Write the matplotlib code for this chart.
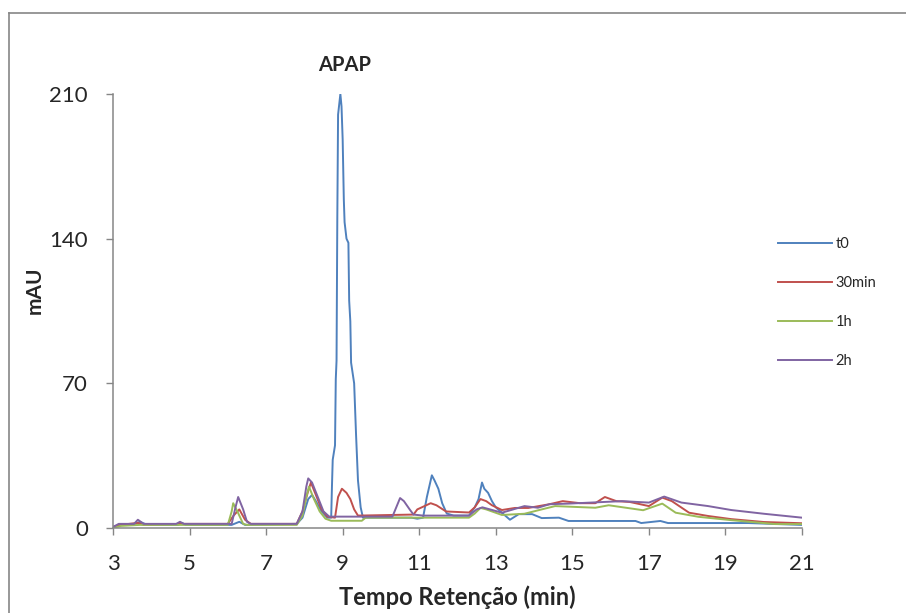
import matplotlib
matplotlib.use("Agg")
import matplotlib.pyplot as plt
from matplotlib.lines import Line2D

# chromatogram traces (time in min, signal in mAU)
t_t0 = [3.0, 3.2, 3.6, 3.7, 3.9, 4.7, 4.8, 4.9, 6.1, 6.3, 6.45, 7.8, 7.95, 8.1, 8.2,
        8.3, 8.45, 8.6, 8.7, 8.72, 8.74, 8.8, 8.82, 8.84, 8.86, 8.88, 8.94, 8.97,
        9.0, 9.03, 9.05, 9.1, 9.15, 9.17, 9.2, 9.22, 9.3, 9.35, 9.4, 9.47, 9.53,
        9.6, 10.8, 10.95, 11.1, 11.2, 11.33, 11.4, 11.5, 11.6, 11.72, 11.9, 12.3,
        12.45, 12.55, 12.64, 12.7, 12.8, 12.9, 13.0, 13.16, 13.37, 13.6, 13.95,
        14.2, 14.65, 14.9, 16.65, 16.8, 17.3, 17.5, 19.6, 21.0]
v_t0 = [0.5, 1.5, 2.0, 3.0, 1.5, 1.5, 2.5, 1.5, 1.5, 3.0, 1.5, 2.0, 5.0, 14.0, 16.0,
        13.0, 8.0, 5.0, 5.0, 20.0, 33.0, 40.0, 72.0, 81.0, 150.0, 200.0, 210.0,
        204.0, 188.0, 159.0, 148.0, 140.0, 138.0, 110.0, 100.0, 80.0, 70.0, 45.0,
        23.0, 10.0, 5.0, 5.0, 5.0, 4.5, 5.0, 15.0, 25.5, 23.0, 19.0, 12.0, 7.0,
        6.0, 6.0, 10.0, 14.0, 22.0, 19.0, 17.0, 13.0, 10.0, 7.4, 4.0, 6.7, 6.7,
        4.8, 5.0, 3.4, 3.4, 2.4, 3.4, 2.4, 2.4, 1.5]

t_30 = [3.0, 3.2, 3.65, 3.8, 4.75, 6.0, 6.15, 6.3, 6.45, 6.6, 7.8, 7.95, 8.1, 8.17,
        8.3, 8.45, 8.6, 8.8, 8.88, 8.98, 9.1, 9.2, 9.3, 9.4, 10.85, 10.95, 11.3,
        11.45, 11.7, 12.3, 12.45, 12.6, 12.75, 12.9, 13.16, 13.5, 13.85, 14.4,
        14.75, 15.2, 15.6, 15.85, 16.15, 16.5, 17.0, 17.35, 17.6, 18.05, 18.55,
        19.15, 20.0, 21.0]
v_30 = [0.5, 1.5, 2.5, 1.5, 2.0, 2.0, 6.0, 9.0, 4.0, 2.0, 2.0, 8.0, 18.0, 22.0,
        16.0, 9.0, 5.5, 5.0, 15.0, 19.0, 17.0, 14.0, 9.0, 6.0, 6.5, 9.0, 12.0,
        11.0, 8.0, 7.5, 10.0, 14.0, 13.0, 11.0, 8.7, 9.7, 9.7, 11.5, 13.0, 12.0,
        12.0, 15.0, 13.0, 12.6, 10.6, 14.7, 13.0, 7.4, 5.8, 4.3, 2.9, 2.3]

t_1h = [3.0, 3.2, 3.7, 4.7, 6.0, 6.1, 6.14, 6.25, 6.4, 6.5, 7.8, 7.95, 8.05, 8.12,
        8.25, 8.4, 8.55, 8.7, 9.5, 9.6, 12.3, 12.45, 12.6, 12.75, 13.16, 13.75,
        14.2, 14.55, 15.6, 15.95, 16.85, 17.35, 17.7, 18.3, 19.15, 20.3, 21.0]
v_1h = [0.0, 1.0, 1.5, 1.5, 1.5, 8.0, 12.0, 8.0, 2.0, 1.5, 1.5, 6.0, 15.0, 20.0,
        14.0, 8.0, 4.5, 3.5, 3.5, 5.0, 5.0, 7.0, 9.7, 9.0, 6.3, 6.9, 9.0, 10.6,
        9.8, 11.0, 8.6, 11.8, 7.4, 5.4, 3.8, 1.9, 1.9]

t_2h = [3.0, 3.15, 3.55, 3.65, 3.8, 4.65, 4.75, 4.85, 6.1, 6.2, 6.27, 6.4, 6.5, 6.6,
        7.8, 7.95, 8.05, 8.1, 8.2, 8.35, 8.5, 8.65, 10.3, 10.4, 10.5, 10.6, 10.75,
        10.85, 11.1, 12.3, 12.5, 12.65, 12.85, 13.16, 13.75, 14.1, 14.4, 14.9,
        16.3, 17.0, 17.4, 17.85, 18.55, 19.15, 20.0, 21.0]
v_2h = [0.5, 2.0, 2.0, 4.0, 2.0, 2.0, 3.0, 2.0, 2.0, 10.0, 15.0, 9.0, 3.0, 2.0,
        2.0, 8.0, 20.0, 24.0, 22.0, 15.0, 8.0, 5.5, 5.5, 10.0, 14.5, 13.0, 9.0,
        6.5, 6.0, 6.0, 9.0, 10.0, 9.0, 7.4, 10.6, 9.8, 11.5, 11.8, 13.0, 12.3,
        15.2, 12.3, 10.6, 8.7, 6.9, 5.0]

labels = ["t0", "30min", "1h", "2h"]
colors = ["#4F81BD", "#C0504D", "#9BBB59", "#8064A2"]
x_ticks = [3, 5, 7, 9, 11, 13, 15, 17, 19, 21]
y_ticks = [0, 70, 140, 210]

plt.rcParams["font.family"] = ["Lato", "DejaVu Sans"]
gray = "#868686"
txt = "#262626"

fig = plt.figure(figsize=(9.06, 6.13), dpi=100)
ax = fig.add_axes([113 / 906, 1 - 528 / 613, 689 / 906, 434 / 613])

for tt, vv, lab, c in zip([t_t0, t_30, t_1h, t_2h], [v_t0, v_30, v_1h, v_2h],
                          labels, colors):
    ax.plot(tt, vv, color=c, lw=1.4, label=lab)

ax.set_xlim(3, 21)
ax.set_ylim(0, 210)
ax.set_xticks(x_ticks)
ax.set_yticks(y_ticks)
ax.tick_params(direction="out", length=5, width=1, color=gray,
               labelsize=16, labelcolor=txt)
ax.tick_params(axis="y", pad=13)
ax.tick_params(axis="x", pad=14)
for s in ["top", "right"]:
    ax.spines[s].set_visible(False)
for s in ["left", "bottom"]:
    ax.spines[s].set_color(gray)
    ax.spines[s].set_linewidth(1.1)

ax.text(9.06, 224, "APAP", ha="center", va="center", fontsize=14.5,
        fontweight="bold", color=txt, clip_on=False)

fig.text(457 / 906, 1 - 597 / 613, "Tempo Retenção (min)", ha="center",
         va="center", fontsize=17, fontweight="bold", color=txt)
fig.text(35 / 906, 1 - 290 / 613, "mAU", ha="center", va="center",
         rotation=90, fontsize=15, fontweight="bold", color=txt)

leg = fig.legend(loc="upper left", bbox_to_anchor=(778 / 906, 1 - 237 / 613),
                 frameon=False, fontsize=10.5, handlelength=3.7, handletextpad=0.25,
                 labelspacing=1.72, borderpad=0, borderaxespad=0)
for t in leg.get_texts():
    t.set_color(txt)

# outer chart border (cropped on the right and bottom)
fig.add_artist(Line2D([9 / 906, 1.05], [1 - 13 / 613, 1 - 13 / 613],
                      transform=fig.transFigure, color=gray, lw=1.2))
fig.add_artist(Line2D([9 / 906, 9 / 906], [1 - 13 / 613, -0.05],
                      transform=fig.transFigure, color=gray, lw=1.2))

fig.savefig("out.png", dpi=100)
